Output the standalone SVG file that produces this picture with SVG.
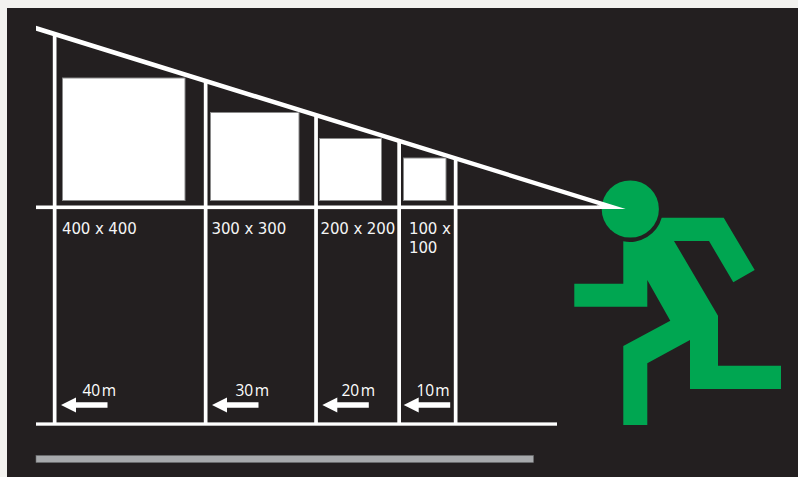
<svg xmlns="http://www.w3.org/2000/svg" width="798" height="477" viewBox="0 0 798 477">
<style>
.ln{fill:#fff}
.sq{fill:#fff;stroke:#8a8a8a;stroke-width:1}
.size{font-family:"DejaVu Sans",sans-serif;font-size:15px;letter-spacing:-.12px;fill:#f4f4f4}
.dist{font-family:"Open Sans","Noto Sans",sans-serif;font-size:15.5px;font-weight:500;fill:#fff}
.fig{fill:#00a651}
</style>
<defs>
<path id="arrow" d="M0 0L15 -7.500V-2.700H46.500V2.700H15V7.500Z" fill="#fff"/>
</defs>
<rect width="798" height="477" fill="#f3f2ef"/>
<rect x="7" y="8" width="791" height="469" fill="#231f20"/>
<rect x="36" y="455.500" width="497.500" height="7" fill="#a7a9ac" stroke="#6d6e71" stroke-width="0.6"/>
<g id="runner">
<circle class="fig" cx="630.300" cy="209" r="28.600"/>
<path class="fig" d="M661.700 217.700H723.700L754.700 270L733.300 282.300L709 241H674L718 315.700V365.700H781V389H690V340L647.300 363.300V425H623.300V346L670.300 320.700L647.300 280V306.700H574.300V283.700H623.300V241.300A33 33 0 0 0 661.700 217.700Z"/>
</g>
<g id="connectors">
<path class="ln" d="M36 25.800L625.700 209L597 209V205.500H600L36 30.700Z"/>
<rect class="ln" x="36" y="205.500" width="564" height="3.600"/>
<rect class="ln" x="36" y="422.400" width="521" height="3.300"/>
<rect class="ln" x="52.800" y="33" width="3.700" height="390"/>
<rect class="ln" x="203.800" y="80" width="3.700" height="343"/>
<rect class="ln" x="314.200" y="114" width="3.700" height="309"/>
<rect class="ln" x="397.300" y="140" width="3.700" height="283"/>
<rect class="ln" x="453.800" y="157.500" width="3.700" height="265.500"/>
<use href="#arrow" x="61" y="405"/>
<use href="#arrow" x="212" y="405"/>
<use href="#arrow" x="322.300" y="405"/>
<use href="#arrow" x="403.700" y="405"/>
</g>
<g id="size-400"><rect class="sq" x="62.500" y="78" width="122.500" height="122.500"/><text class="size" x="62" y="234">400 x 400</text></g>
<g id="size-300"><rect class="sq" x="210.500" y="112.500" width="88.500" height="88"/><text class="size" x="211.500" y="234">300 x 300</text></g>
<g id="size-200"><rect class="sq" x="319.500" y="138.500" width="62" height="62"/><text class="size" x="320.500" y="234">200 x 200</text></g>
<g id="size-100"><rect class="sq" x="403.500" y="158" width="42.500" height="42.500"/><text class="size" x="409" y="234">100 x</text><text class="size" x="409" y="252.500">100</text></g>
<g id="dist-40"><text class="dist" x="82.500" y="396">40<tspan dx="1.500">m</tspan></text></g>
<g id="dist-30"><text class="dist" x="235.500" y="396">30<tspan dx="1.500">m</tspan></text></g>
<g id="dist-20"><text class="dist" x="341.500" y="396">20<tspan dx="1.500">m</tspan></text></g>
<g id="dist-10"><text class="dist" x="416.500" y="396">10<tspan dx="1">m</tspan></text></g>
</svg>
